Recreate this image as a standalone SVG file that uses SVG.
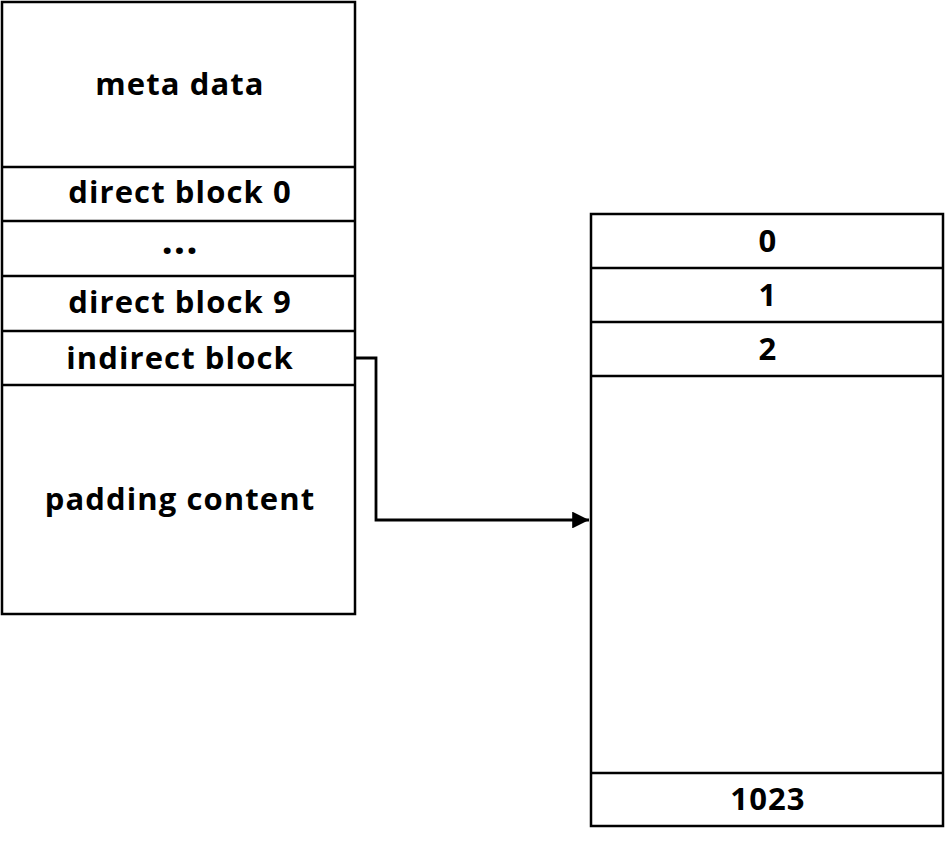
<svg xmlns="http://www.w3.org/2000/svg" width="947" height="843" viewBox="0 0 947 843">
<style>
.box{fill:#fff;stroke:#000;stroke-width:2.5}
.div{stroke:#000;stroke-width:2.5}
.t{font-family:"Open Sans","Liberation Sans",sans-serif;font-weight:bold;font-size:31px;letter-spacing:1.1px;text-anchor:middle;fill:#000}
.c{fill:none;stroke:#000;stroke-width:2.8}
</style>
<defs>
<marker id="ah" markerWidth="6" markerHeight="6" refX="6" refY="3" orient="auto" markerUnits="strokeWidth">
<path d="M0,0 L6,3 L0,6 z" fill="#000"/>
</marker>
</defs>
<rect width="947" height="843" fill="#fff"/>
<g id="inode">
<rect class="box" x="2" y="2" width="353" height="612"/>
<line class="div" x1="2" y1="167" x2="355" y2="167"/>
<line class="div" x1="2" y1="221" x2="355" y2="221"/>
<line class="div" x1="2" y1="276" x2="355" y2="276"/>
<line class="div" x1="2" y1="331" x2="355" y2="331"/>
<line class="div" x1="2" y1="385" x2="355" y2="385"/>
<text class="t" x="180" y="95">meta data</text>
<text class="t" x="180" y="203">direct block 0</text>
<text class="t" x="180" y="254" style="font-size:40px;letter-spacing:1px">...</text>
<text class="t" x="180" y="313">direct block 9</text>
<text class="t" x="180" y="369">indirect block</text>
<text class="t" x="180" y="510">padding content</text>
</g>
<g id="indirect">
<rect class="box" x="591" y="214" width="352" height="612"/>
<line class="div" x1="591" y1="268" x2="943" y2="268"/>
<line class="div" x1="591" y1="322" x2="943" y2="322"/>
<line class="div" x1="591" y1="376" x2="943" y2="376"/>
<line class="div" x1="591" y1="773" x2="943" y2="773"/>
<text class="t" x="768" y="252">0</text>
<text class="t" x="768" y="306">1</text>
<text class="t" x="768" y="360">2</text>
<text class="t" x="768" y="810">1023</text>
</g>
<g id="connectors">
<polyline class="c" points="355,358 376,358 376,520 589,520" marker-end="url(#ah)"/>
</g>
</svg>
